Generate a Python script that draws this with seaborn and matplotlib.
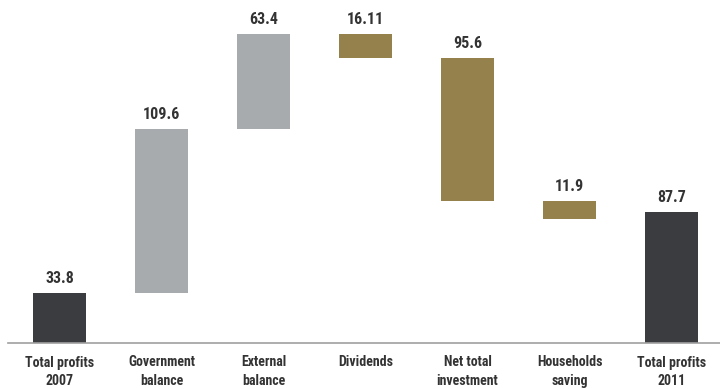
import matplotlib
matplotlib.use("Agg")
import matplotlib.pyplot as plt
import seaborn as sns
import pandas as pd

categories = ["Total profits\n2007", "Government\nbalance", "External\nbalance",
              "Dividends", "Net total\ninvestment", "Households\nsaving",
              "Total profits\n2011"]
changes = [33.8, 109.6, 63.4, -16.11, -95.6, -11.9, 87.7]
kinds = ["total", "gain", "gain", "loss", "loss", "loss", "total"]
value_labels = ["33.8", "109.6", "63.4", "16.11", "95.6", "11.9", "87.7"]

colors = {"total": "#3b3c40", "gain": "#a7abae", "loss": "#94814b"}

# floating bar extents for the waterfall
bottoms, tops = [], []
running = 0.0
for ch, kind in zip(changes, kinds):
    if kind == "total":
        lo, hi = 0.0, ch
        running = ch
    else:
        new = running + ch
        lo, hi = min(running, new), max(running, new)
        running = new
    bottoms.append(lo)
    tops.append(hi)

df = pd.DataFrame({"category": categories, "top": tops,
                   "bottom": bottoms, "kind": kinds, "label": value_labels})

sns.set_theme(style="white")
plt.rcParams["font.family"] = ["Roboto Condensed", "Roboto", "DejaVu Sans"]

fig = plt.figure(figsize=(7.2, 3.89), dpi=100)
ax = fig.add_axes([8 / 720, 46 / 389, 712 / 720, 343 / 389])

sns.barplot(data=df, x="category", y="top", order=categories,
            width=0.52, color="#888888", saturation=1, ax=ax)

for patch, lo, hi, kind in zip(ax.patches, df["bottom"], df["top"], df["kind"]):
    patch.set_y(lo)
    patch.set_height(hi - lo)
    patch.set_facecolor(colors[kind])
    patch.set_edgecolor("none")

for i, (hi, txt) in enumerate(zip(df["top"], df["label"])):
    ax.annotate(txt, xy=(i, hi), xytext=(0, 5), textcoords="offset points",
                ha="center", va="bottom", fontsize=11.5, fontweight="bold",
                color="#333333")

ax.set_xlim(-0.505, 6.475)
ax.set_ylim(0, 229.6)
ax.set_xlabel("")
ax.set_ylabel("")
ax.set_yticks([])
ax.tick_params(axis="x", length=0, pad=9)
for lbl in ax.get_xticklabels():
    lbl.set_fontsize(10)
    lbl.set_fontweight("bold")
    lbl.set_color("#333333")
    lbl.set_linespacing(1.4)

for side in ["top", "left", "right"]:
    ax.spines[side].set_visible(False)
ax.spines["bottom"].set_color("#a0a0a0")
ax.spines["bottom"].set_linewidth(1.2)

fig.savefig("out.png", dpi=100, facecolor="white")
